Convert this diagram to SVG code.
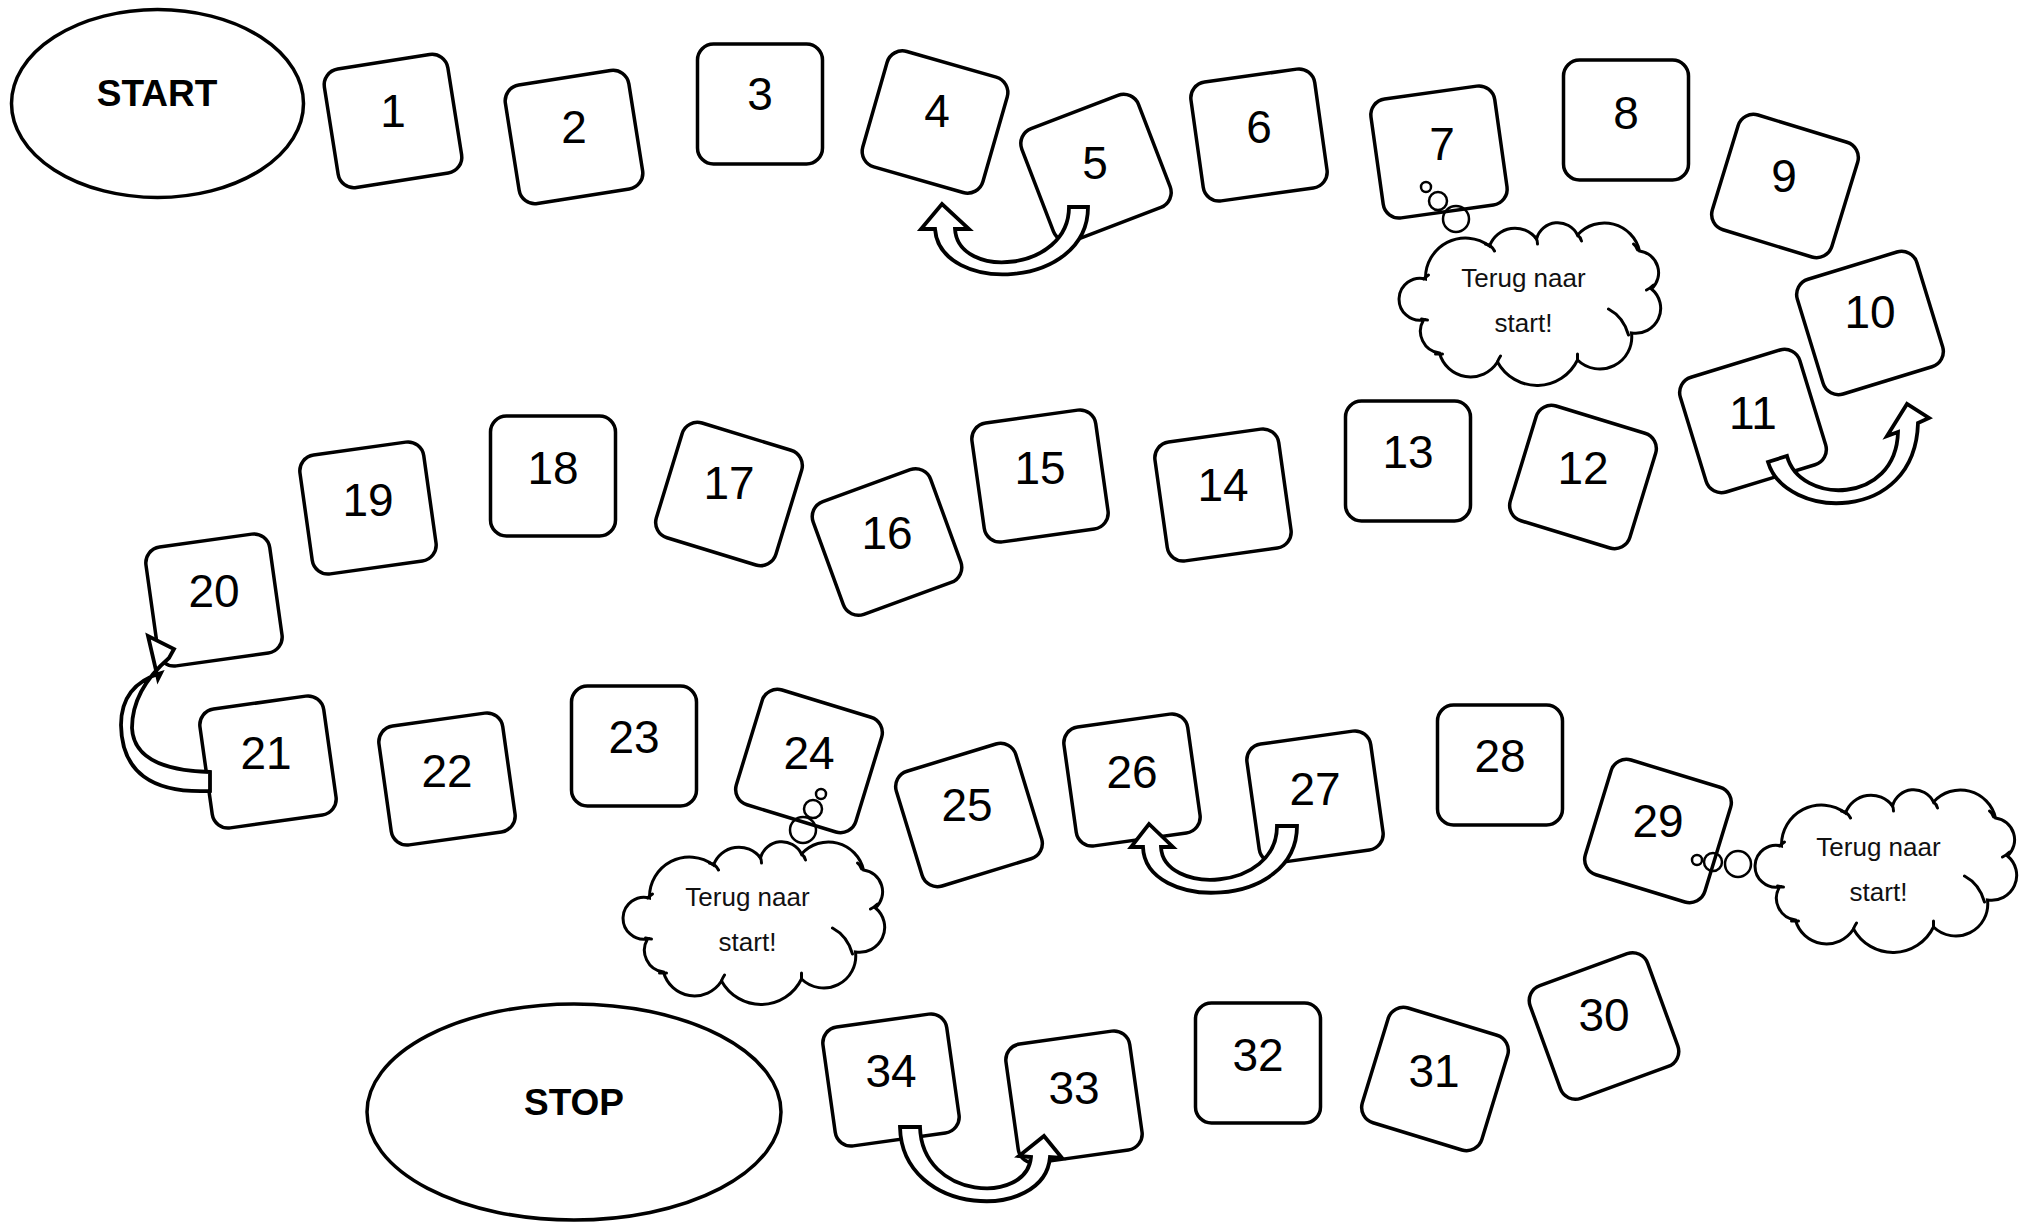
<svg xmlns="http://www.w3.org/2000/svg" width="2033" height="1224" viewBox="0 0 2033 1224">
<style>
.bg{fill:#fff}
.box{fill:#fff;stroke:#000;stroke-width:3.5}
.oval{fill:#fff;stroke:#000;stroke-width:3.5}
.num{font-family:"Liberation Sans",Arial,sans-serif;font-size:46px;text-anchor:middle;fill:#000}
.big{font-family:"Liberation Sans",Arial,sans-serif;font-size:37px;font-weight:bold;text-anchor:middle;fill:#000}
.cloud{fill:#fff;stroke:#000;stroke-width:3}
.hook{fill:none;stroke:#000;stroke-width:3;stroke-linecap:round}
.bub{fill:none;stroke:#000;stroke-width:2.5}
.ctext{font-family:"Liberation Sans",Arial,sans-serif;font-size:26px;text-anchor:middle;fill:#111}
.uturn{fill:#fff;stroke:#000;stroke-width:3.8;stroke-linejoin:miter}
</style>
<defs>
<rect id="tile" x="-62.5" y="-60" width="125" height="120" rx="16" ry="16"/>
<path id="cloudShape" d="M26,54 A40,40 0 0 1 90,21 A27,27 0 0 1 137,14 A22,22 0 0 1 178,10 A36,36 0 0 1 240,26 A22,22 0 0 1 252,64 A25,25 0 0 1 232,108 A32,32 0 0 1 178,135 A45,45 0 0 1 98,137 A32,32 0 0 1 40,128 A22,22 0 0 1 24,95 A21,21 0 1 1 26,54 Z"/>
<path id="cloudHooks" d="M86,19 Q92,20 95,26 M136,12 Q138,15 138,19 M178,10 Q181,12 182,16 M234,19 Q237,21 238,25 M254,60 Q251,63 247,65 M209,84 Q224,92 229,110 M178,129 L178,135 M98,137 Q99,134 101,131 M43,129 Q39,129 36,129 M28,95 Q26,95 22,94 M24,54 Q26,52 29,50"/>
</defs>
<rect class="bg" x="0" y="0" width="2033" height="1224"/>

<g id="start"><ellipse class="oval" cx="157.5" cy="103.5" rx="146" ry="94"/><text class="big" x="157" y="106">START</text></g>
<g id="stop"><ellipse class="oval" cx="574" cy="1112" rx="207" ry="108"/><text class="big" x="574" y="1115">STOP</text></g>

<g id="n1"><use href="#tile" class="box" transform="translate(393,121) rotate(-9)"/><text class="num" x="393" y="127">1</text></g>
<g id="n2"><use href="#tile" class="box" transform="translate(574,137) rotate(-9)"/><text class="num" x="574" y="143">2</text></g>
<g id="n3"><use href="#tile" class="box" transform="translate(760,104)"/><text class="num" x="760" y="110">3</text></g>
<g id="n4"><use href="#tile" class="box" transform="translate(935,122) rotate(16)"/><text class="num" x="937" y="127">4</text></g>
<g id="n5"><use href="#tile" class="box" transform="translate(1096,168) rotate(-21)"/><text class="num" x="1095" y="179">5</text></g>
<g id="n6"><use href="#tile" class="box" transform="translate(1259,135) rotate(-8)"/><text class="num" x="1259" y="143">6</text></g>
<g id="n7"><use href="#tile" class="box" transform="translate(1439,152) rotate(-8)"/><text class="num" x="1442" y="160">7</text></g>
<g id="n8"><use href="#tile" class="box" transform="translate(1626,120)"/><text class="num" x="1626" y="129">8</text></g>
<g id="n9"><use href="#tile" class="box" transform="translate(1785,186) rotate(17)"/><text class="num" x="1784" y="192">9</text></g>
<g id="n10"><use href="#tile" class="box" transform="translate(1870,323) rotate(-17)"/><text class="num" x="1870" y="328">10</text></g>
<g id="n11"><use href="#tile" class="box" transform="translate(1753,421) rotate(-17)"/><text class="num" x="1753" y="429">11</text></g>
<g id="n12"><use href="#tile" class="box" transform="translate(1583,477) rotate(17)"/><text class="num" x="1583" y="484">12</text></g>
<g id="n13"><use href="#tile" class="box" transform="translate(1408,461)"/><text class="num" x="1408" y="468">13</text></g>
<g id="n14"><use href="#tile" class="box" transform="translate(1223,495) rotate(-8)"/><text class="num" x="1223" y="501">14</text></g>
<g id="n15"><use href="#tile" class="box" transform="translate(1040,476) rotate(-8)"/><text class="num" x="1040" y="484">15</text></g>
<g id="n16"><use href="#tile" class="box" transform="translate(887,542) rotate(-20)"/><text class="num" x="887" y="549">16</text></g>
<g id="n17"><use href="#tile" class="box" transform="translate(729,494) rotate(17)"/><text class="num" x="729" y="499">17</text></g>
<g id="n18"><use href="#tile" class="box" transform="translate(553,476)"/><text class="num" x="553" y="484">18</text></g>
<g id="n19"><use href="#tile" class="box" transform="translate(368,508) rotate(-8)"/><text class="num" x="368" y="516">19</text></g>
<g id="n20"><use href="#tile" class="box" transform="translate(214,600) rotate(-8)"/><text class="num" x="214" y="607">20</text></g>
<g id="n21"><use href="#tile" class="box" transform="translate(268,762) rotate(-8)"/><text class="num" x="266" y="769">21</text></g>
<g id="n22"><use href="#tile" class="box" transform="translate(447,779) rotate(-8)"/><text class="num" x="447" y="787">22</text></g>
<g id="n23"><use href="#tile" class="box" transform="translate(634,746)"/><text class="num" x="634" y="753">23</text></g>
<g id="n24"><use href="#tile" class="box" transform="translate(809,761) rotate(17)"/><text class="num" x="809" y="769">24</text></g>
<g id="n25"><use href="#tile" class="box" transform="translate(969,815) rotate(-17)"/><text class="num" x="967" y="821">25</text></g>
<g id="n26"><use href="#tile" class="box" transform="translate(1132,780) rotate(-8)"/><text class="num" x="1132" y="788">26</text></g>
<g id="n27"><use href="#tile" class="box" transform="translate(1315,797) rotate(-8)"/><text class="num" x="1315" y="805">27</text></g>
<g id="n28"><use href="#tile" class="box" transform="translate(1500,765)"/><text class="num" x="1500" y="772">28</text></g>
<g id="n29"><use href="#tile" class="box" transform="translate(1658,831) rotate(17)"/><text class="num" x="1658" y="837">29</text></g>
<g id="n30"><use href="#tile" class="box" transform="translate(1604,1026) rotate(-20)"/><text class="num" x="1604" y="1031">30</text></g>
<g id="n31"><use href="#tile" class="box" transform="translate(1435,1079) rotate(17)"/><text class="num" x="1434" y="1087">31</text></g>
<g id="n32"><use href="#tile" class="box" transform="translate(1258,1063)"/><text class="num" x="1258" y="1071">32</text></g>
<g id="n33"><use href="#tile" class="box" transform="translate(1074,1097) rotate(-8)"/><text class="num" x="1074" y="1104">33</text></g>
<g id="n34"><use href="#tile" class="box" transform="translate(891,1080) rotate(-8)"/><text class="num" x="891" y="1087">34</text></g>

<g id="cloud1">
<circle class="bub" cx="1426" cy="187" r="5"/><circle class="bub" cx="1438" cy="201" r="9"/><circle class="bub" cx="1456" cy="219" r="13"/>
<g transform="translate(1399.5,225)"><use href="#cloudShape" class="cloud"/><use href="#cloudHooks" class="hook"/>
<text class="ctext" x="124" y="62">Terug naar</text><text class="ctext" x="124" y="107">start!</text></g>
</g>
<g id="cloud2">
<circle class="bub" cx="821" cy="794" r="5"/><circle class="bub" cx="813" cy="809" r="9"/><circle class="bub" cx="803" cy="830" r="13"/>
<g transform="translate(623.5,844)"><use href="#cloudShape" class="cloud"/><use href="#cloudHooks" class="hook"/>
<text class="ctext" x="124" y="62">Terug naar</text><text class="ctext" x="124" y="107">start!</text></g>
</g>
<g id="cloud3">
<circle class="bub" cx="1697" cy="860" r="5"/><circle class="bub" cx="1713" cy="862" r="9"/><circle class="bub" cx="1738" cy="864" r="13"/>
<g transform="translate(1755.5,792)"><use href="#cloudShape" class="cloud"/><use href="#cloudHooks" class="hook"/>
<text class="ctext" x="123" y="64">Terug naar</text><text class="ctext" x="123" y="109">start!</text></g>
</g>

<g id="connectors">
<path id="a5to4" class="uturn" d="M1088,207 C1088,290 940,295 935,229 L921,229 L942,204 L969,229 L955,229 C958,280 1069,272 1069,207 Z"/>
<path id="a11to10" class="uturn" d="M1768,462 C1785,520 1915,525 1918,423 L1929,418 L1907,404 L1887,436 L1898,432 C1896,505 1800,505 1787,456 Z"/>
<path id="a21to20" class="uturn" d="M210,791 Q122,795 121,725 Q121,685 161,673 L158,679 L148,636 L174,649 L169,658 Q132,690 132,728 Q134,770 210,772 Z"/>
<path id="a27to26" class="uturn" d="M1297,826 C1297,910 1145,912 1143,847 L1131,847 L1149,824 L1173,847 L1161,847 C1163,895 1277,892 1277,826 Z"/>
<path id="a34to33" class="uturn" d="M900,1127 C902,1218 1045,1222 1050,1157 L1062,1158 L1044,1136 L1019,1156 L1031,1157 C1027,1205 922,1200 920,1127 Z"/>
</g>
</svg>
